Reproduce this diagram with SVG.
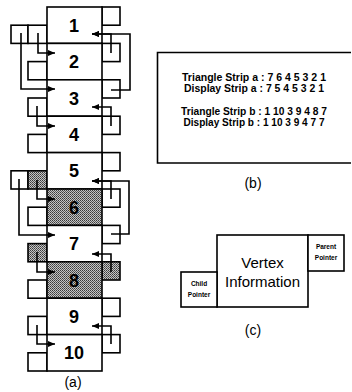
<svg xmlns="http://www.w3.org/2000/svg" width="352" height="392" viewBox="0 0 352 392">
<defs>
<pattern id="dots" width="2" height="2" patternUnits="userSpaceOnUse">
<rect width="2" height="2" fill="#c4c4c4"/>
<rect width="1" height="1" fill="#3a3a3a"/>
<rect x="1" y="1" width="1" height="1" fill="#5a5a5a"/>
</pattern>
<marker id="ahR" markerWidth="8" markerHeight="6" refX="7" refY="3" orient="auto" markerUnits="userSpaceOnUse">
<path d="M0,0 L7,3 L0,6 Z" fill="#000"/>
</marker>
</defs>
<style>
.box{fill:#fff;stroke:#000;stroke-width:1.6}
.sh{fill:url(#dots);stroke:#000;stroke-width:1.6}
.num{font-family:"Liberation Sans",Arial,sans-serif;font-weight:bold;font-size:18px;text-anchor:middle}
.con{fill:none;stroke:#000;stroke-width:1.6;marker-end:url(#ahR)}
.bt{font-family:"Liberation Sans",Arial,sans-serif;font-weight:bold;font-size:10.5px;text-anchor:middle}
.cap{font-family:"Liberation Sans",Arial,sans-serif;font-size:14px;text-anchor:middle}
.small{font-family:"Liberation Sans",Arial,sans-serif;font-weight:bold;font-size:6.5px;text-anchor:middle}
.vi{font-family:"Liberation Sans",Arial,sans-serif;font-size:15px;text-anchor:middle}
</style>
<rect width="352" height="392" fill="#fff"/>

<!-- Panel (a) -->
<g id="row1">
<rect class="box" x="11" y="25.2" width="17" height="18.2"/>
<rect class="box" x="28" y="25.2" width="19" height="18.2"/>
<rect class="box" x="102" y="7" width="18" height="18.2"/>
<rect class="box" x="47" y="7" width="55" height="36.4"/>
<text class="num" x="74" y="31.7">1</text>
</g>
<g id="row2">
<rect class="box" x="28" y="61.6" width="19" height="18.2"/>
<rect class="box" x="102" y="43.4" width="18" height="18.2"/>
<rect class="box" x="47" y="43.4" width="55" height="36.4"/>
<text class="num" x="74" y="68.1">2</text>
</g>
<g id="row3">
<rect class="box" x="28" y="98" width="19" height="18.2"/>
<rect class="box" x="102" y="79.8" width="18" height="18.2"/>
<rect class="box" x="47" y="79.8" width="55" height="36.4"/>
<text class="num" x="74" y="104.5">3</text>
</g>
<g id="row4">
<rect class="box" x="28" y="134.4" width="19" height="18.2"/>
<rect class="box" x="102" y="116.2" width="18" height="18.2"/>
<rect class="box" x="47" y="116.2" width="55" height="36.4"/>
<text class="num" x="74" y="140.9">4</text>
</g>
<g id="row5">
<rect class="box" x="11" y="170.8" width="17" height="18.2"/>
<rect class="sh" x="28" y="170.8" width="19" height="18.2"/>
<rect class="box" x="102" y="152.6" width="18" height="18.2"/>
<rect class="box" x="47" y="152.6" width="55" height="36.4"/>
<text class="num" x="74" y="177.3">5</text>
</g>
<g id="row6">
<rect class="box" x="28" y="207.2" width="19" height="18.2"/>
<rect class="box" x="102" y="189" width="18" height="18.2"/>
<rect class="sh" x="47" y="189" width="55" height="36.4"/>
<text class="num" x="74" y="213.7">6</text>
</g>
<g id="row7">
<rect class="sh" x="28" y="243.6" width="19" height="18.2"/>
<rect class="box" x="102" y="225.4" width="18" height="18.2"/>
<rect class="box" x="47" y="225.4" width="55" height="36.4"/>
<text class="num" x="74" y="250.1">7</text>
</g>
<g id="row8">
<rect class="box" x="28" y="280" width="19" height="18.2"/>
<rect class="sh" x="102" y="261.8" width="18" height="18.2"/>
<rect class="sh" x="47" y="261.8" width="55" height="36.4"/>
<text class="num" x="74" y="286.5">8</text>
</g>
<g id="row9">
<rect class="box" x="28" y="316.4" width="19" height="18.2"/>
<rect class="box" x="102" y="298.2" width="18" height="18.2"/>
<rect class="box" x="47" y="298.2" width="55" height="36.4"/>
<text class="num" x="74" y="322.9">9</text>
</g>
<g id="row10">
<rect class="box" x="28" y="352.8" width="19" height="18.2"/>
<rect class="box" x="102" y="334.6" width="18" height="18.2"/>
<rect class="box" x="47" y="334.6" width="55" height="36.4"/>
<text class="num" x="74" y="359.3">10</text>
</g>

<g id="connectors">
<!-- child pointers (left) -->
<path class="con" d="M38,33 V53 H55"/>
<path class="con" d="M21,33 V89 H55"/>
<path class="con" d="M37,106 V126 H55"/>
<path class="con" d="M37,180 V199 H55"/>
<path class="con" d="M19,179 V235 H55"/>
<path class="con" d="M37,252 V272 H55"/>
<path class="con" d="M37,325 V344 H55"/>
<!-- parent pointers (right) -->
<path class="con" d="M111,53 V34 H92"/>
<path class="con" d="M111,90 H130 V34 H92"/>
<path class="con" d="M111,126 V107 H92"/>
<path class="con" d="M111,199 V181 H92"/>
<path class="con" d="M111,234 H129 V181 H92"/>
<path class="con" d="M111,272 V254 H92"/>
<path class="con" d="M111,344 V326 H92"/>
</g>
<text class="cap" x="73" y="387">(a)</text>

<!-- Panel (b) -->
<g id="panelB">
<path d="M351,52.5 H157.5 V163 H351" fill="none" stroke="#000" stroke-width="1.6"/>
<text class="bt" x="254" y="81" textLength="144" lengthAdjust="spacingAndGlyphs">Triangle Strip a : 7 6 4 5 3 2 1</text>
<text class="bt" x="254" y="92" textLength="140" lengthAdjust="spacingAndGlyphs">Display Strip a : 7 5 4 5 3 2 1</text>
<text class="bt" x="254" y="115" textLength="146" lengthAdjust="spacingAndGlyphs">Triangle Strip b : 1 10 3 9 4 8 7</text>
<text class="bt" x="254" y="126" textLength="141" lengthAdjust="spacingAndGlyphs">Display Strip b : 1 10 3 9 4 7 7</text>
</g>
<text class="cap" x="253" y="188">(b)</text>

<!-- Panel (c) -->
<g id="vertexInfo">
<rect class="box" x="217" y="235" width="91" height="72"/>
<text class="vi" x="262.5" y="268">Vertex</text>
<text class="vi" x="262.5" y="287">Information</text>
</g>
<g id="parentPointer">
<rect class="box" x="308" y="235" width="36" height="36"/>
<text class="small" x="326" y="249">Parent</text>
<text class="small" x="326" y="260">Pointer</text>
</g>
<g id="childPointer">
<rect class="box" x="181" y="272" width="36" height="35"/>
<text class="small" x="199" y="286">Child</text>
<text class="small" x="199" y="297">Pointer</text>
</g>
<text class="cap" x="253" y="335">(c)</text>
</svg>
